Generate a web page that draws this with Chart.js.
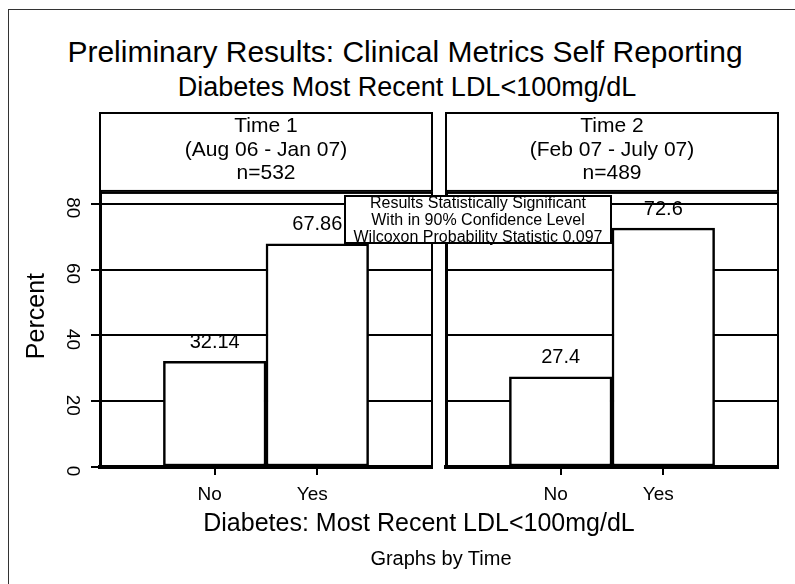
<!DOCTYPE html>
<html>
<head>
<meta charset="utf-8">
<script src="https://cdn.jsdelivr.net/npm/chart.js@4.4.1/dist/chart.umd.min.js"></script>
<style>
body { margin: 0; width: 795px; height: 584px; overflow: hidden; background: #fff; position: relative;
       font-family: 'Liberation Sans', Arial, sans-serif; color: #000; }
canvas { position: absolute; left: 0; top: 0; }
.frame { position: absolute; left: 8px; top: 9px; width: 800px; height: 600px; border: 1px solid #333; }
.txt { position: absolute; width: 800px; text-align: center; line-height: 1; white-space: nowrap; }
#note { position: absolute; left: 344px; top: 195px; width: 264px; height: 45px; border: 2px solid #000;
        background: #fff; font-size: 16px; line-height: 17px; text-align: center; z-index: 5; }
#note span { display: block; position: relative; top: -3px; }
</style>
</head>
<body>
<div class="frame"></div>
<div class="txt" style="left:5px; top:37px; font-size:30px;">Preliminary Results: Clinical Metrics Self Reporting</div>
<div class="txt" style="left:7px; top:74px; font-size:27px;">Diabetes Most Recent LDL&lt;100mg/dL</div>
<canvas id="panel1" width="795" height="584"></canvas>
<canvas id="panel2" width="795" height="584"></canvas>
<div id="note"><span>Results Statistically Significant<br>With in 90% Confidence Level<br>Wilcoxon Probability Statistic 0.097</span></div>
<div class="txt" style="left:19px; top:510px; font-size:25px;">Diabetes: Most Recent LDL&lt;100mg/dL</div>
<div class="txt" style="left:41px; top:548px; font-size:20px;">Graphs by Time</div>
<script>
const categories = ['No', 'Yes']
const time1Values = [32.14, 67.86]
const time2Values = [27.4, 72.6]
const time1Header = ['Time 1', '(Aug 06 - Jan 07)', 'n=532']
const time2Header = ['Time 2', '(Feb 07 - July 07)', 'n=489']
const yTickValues = [0, 20, 40, 60, 80]

Chart.defaults.font.family = "'Liberation Sans', Arial, sans-serif"
Chart.defaults.color = '#000'

// box round the strip header and round the plot region
const panelFrame = {
    id: 'panelFrame',
    afterDraw(chart) {
        const ctx = chart.ctx
        const a = chart.chartArea
        const t = chart.titleBlock
        ctx.save()
        ctx.strokeStyle = '#000'
        ctx.lineWidth = 2
        ctx.strokeRect(a.left, a.top, a.right - a.left, a.bottom - a.top)
        ctx.strokeRect(a.left, t.top, a.right - a.left, a.top - 2 - t.top)
        ctx.restore()
    }
}

// value written over each bar
const barValues = {
    id: 'barValues',
    afterDatasetsDraw(chart) {
        const ctx = chart.ctx
        const meta = chart.getDatasetMeta(0)
        const data = chart.data.datasets[0].data
        ctx.save()
        ctx.font = "20px 'Liberation Sans', Arial, sans-serif"
        ctx.textAlign = 'center'
        ctx.textBaseline = 'middle'
        ctx.fillStyle = '#000'
        meta.data.forEach((bar, i) => {
            ctx.fillText(String(data[i].y), bar.x, bar.y - 19)
        })
        ctx.restore()
    }
}

function makePanel(id, header, values, first) {
    const points = values.map((v, i) => ({ x: i + 1, y: v }))
    return new Chart(document.getElementById(id), {
        type: 'bar',
        data: {
            datasets: [{
                data: points,
                backgroundColor: '#fff',
                borderColor: '#000',
                borderWidth: 2.5,
                borderSkipped: false,
                barPercentage: 1,
                categoryPercentage: 1
            }]
        },
        options: {
            responsive: false,
            animation: false,
            layout: {
                padding: first
                    ? { left: 10, right: 363, top: 113, bottom: 77 }
                    : { left: 446, right: 17, top: 113, bottom: 77 }
            },
            plugins: {
                legend: { display: false },
                tooltip: { enabled: false },
                title: {
                    display: true,
                    text: header,
                    fullSize: false,
                    color: '#000',
                    font: { size: 21, weight: 'normal', lineHeight: 1.11 },
                    padding: { top: 2, bottom: 8 }
                }
            },
            scales: {
                x: {
                    type: 'linear',
                    offset: false,
                    min: -0.118,
                    max: 3.118,
                    afterBuildTicks: (s) => { s.ticks = categories.map((c, i) => ({ value: i + 1 })) },
                    afterFit: (s) => { s.height = 40 },
                    grid: { offset: false, drawOnChartArea: false, color: '#000', lineWidth: 2, tickLength: 8 },
                    border: { color: '#000', width: 4 },
                    ticks: {
                        font: { size: 19 },
                        padding: 8,
                        labelOffset: -5,
                        callback: (v) => categories[v - 1]
                    }
                },
                y: {
                    min: 0,
                    max: 83.3,
                    afterBuildTicks: (s) => { s.ticks = yTickValues.map((v) => ({ value: v })) },
                    afterFit: (s) => { s.width = first ? 90 : 0 },
                    grid: { color: '#000', lineWidth: 2, tickLength: 9, drawTicks: first },
                    border: { color: '#000', width: 3 },
                    ticks: {
                        display: first,
                        minRotation: -90,
                        maxRotation: -90,
                        crossAlign: 'center',
                        padding: 8,
                        labelOffset: 4,
                        font: { size: 19 }
                    },
                    title: {
                        display: first,
                        text: '    Percent',
                        font: { size: 25 },
                        padding: { top: 12, bottom: 0 }
                    }
                }
            }
        },
        plugins: [panelFrame, barValues]
    })
}

makePanel('panel1', time1Header, time1Values, true)
makePanel('panel2', time2Header, time2Values, false)
</script>
</body>
</html>
